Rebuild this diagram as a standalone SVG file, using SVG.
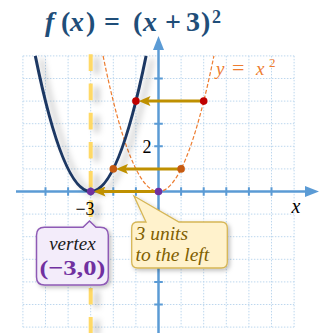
<svg xmlns="http://www.w3.org/2000/svg" width="320" height="333" viewBox="0 0 320 333">
<style>
.grid{fill:none;stroke:#bdd7ee;stroke-width:1;stroke-dasharray:1.5 1.5}
.axis{fill:none;stroke:#5b9bd5;stroke-width:2.5}
.tick{fill:none;stroke:#5b9bd5;stroke-width:2}
.arr{fill:none;stroke:#bf9000;stroke-width:3;marker-end:url(#gh)}
.serif{font-family:"Liberation Serif","DejaVu Serif",serif}
</style>
<defs>
<filter id="sh" filterUnits="userSpaceOnUse" x="0" y="0" width="320" height="333">
<feDropShadow dx="6" dy="3" stdDeviation="3" flood-color="#000" flood-opacity="0.28"/>
</filter>
<filter id="sh2" filterUnits="userSpaceOnUse" x="0" y="0" width="320" height="333">
<feDropShadow dx="2" dy="2" stdDeviation="2" flood-color="#000" flood-opacity="0.25"/>
</filter>
<marker id="ah" markerUnits="userSpaceOnUse" viewBox="0 0 14 11" refX="4" refY="5.5" markerWidth="14" markerHeight="11" orient="auto">
<path d="M0,0 L14,5.5 L0,11 Z" fill="#5b9bd5"/>
</marker>
<marker id="gh" markerUnits="userSpaceOnUse" viewBox="0 0 12 10" refX="4" refY="5" markerWidth="12" markerHeight="10" orient="auto">
<path d="M0,0 L12,5 L0,10 L2.5,5 Z" fill="#bf9000"/>
</marker>
</defs>
<rect width="320" height="333" fill="#fff"/>
<g id="grid">
<path class="grid" d="M22.9,55.9V327.1M45.5,55.9V327.1M68.1,55.9V327.1M90.7,55.9V327.1M113.3,55.9V327.1M135.9,55.9V327.1M158.5,55.9V327.1M181.1,55.9V327.1M203.7,55.9V327.1M226.3,55.9V327.1M248.9,55.9V327.1M271.5,55.9V327.1M294.1,55.9V327.1
M22.9,55.9H294.1M22.9,78.5H294.1M22.9,101.1H294.1M22.9,123.7H294.1M22.9,146.3H294.1M22.9,168.9H294.1M22.9,191.5H294.1M22.9,214.1H294.1M22.9,236.7H294.1M22.9,259.3H294.1M22.9,281.9H294.1M22.9,304.5H294.1M22.9,327.1H294.1"/>
</g>
<g id="axis-of-symmetry">
<line x1="90.7" y1="54.3" x2="90.7" y2="333" stroke="#ffd966" stroke-width="4" stroke-dasharray="16.7 12.5" filter="url(#sh)"/>
</g>
<g id="axes">
<line class="axis" x1="16" y1="191.5" x2="309" y2="191.5" marker-end="url(#ah)"/>
<line class="axis" x1="158.5" y1="333" x2="158.5" y2="46" marker-end="url(#ah)"/>
<path class="tick" d="M45.5,187.2V195.8M68.1,187.2V195.8M90.7,187.2V195.8M113.3,187.2V195.8M135.9,187.2V195.8M181.1,187.2V195.8M203.7,187.2V195.8M226.3,187.2V195.8M248.9,187.2V195.8M271.5,187.2V195.8
M154.2,78.5H162.8M154.2,101.1H162.8M154.2,123.7H162.8M154.2,146.3H162.8M154.2,168.9H162.8M154.2,214.1H162.8M154.2,236.7H162.8M154.2,259.3H162.8M154.2,281.9H162.8M154.2,304.5H162.8"/>
<text class="serif" x="147" y="152.5" font-size="18" text-anchor="middle" fill="#000">2</text>
<text class="serif" x="85" y="215" font-size="18" text-anchor="middle" fill="#000">−3</text>
<text class="serif" x="296" y="213" font-size="20" font-style="italic" text-anchor="middle" fill="#000">x</text>
</g>
<g id="parent-curve">
<path d="M103.1,55.9 Q158.5,327.1 213.9,55.9" fill="none" stroke="#ed7d31" stroke-width="1.2" stroke-dasharray="4 2"/>
<text class="serif" x="216" y="75" font-size="19" font-style="italic" fill="#ed7d31">y<tspan x="232" font-style="normal" font-size="22">=</tspan><tspan x="256">x</tspan><tspan x="269" y="67" font-size="13" font-style="normal">2</tspan></text>
</g>
<g id="shifted-curve">
<path d="M35.3,55.9 Q90.7,327.1 146.1,55.9" fill="none" stroke="#1f3864" stroke-width="3" filter="url(#sh)"/>
</g>
<g id="connectors">
<line class="arr" x1="203.7" y1="101.1" x2="146.5" y2="101.1"/>
<line class="arr" x1="181.1" y1="168.9" x2="124" y2="168.9"/>
<line class="arr" x1="158.5" y1="191.5" x2="101.5" y2="191.5"/>
</g>
<g id="points">
<circle cx="135.9" cy="101.1" r="3.8" fill="#c00000"/>
<circle cx="203.7" cy="101.1" r="3.8" fill="#c00000"/>
<circle cx="113.3" cy="168.9" r="3.8" fill="#c55a11"/>
<circle cx="181.1" cy="168.9" r="3.8" fill="#c55a11"/>
<circle cx="90.7" cy="191.5" r="3.8" fill="#7030a0"/>
<circle cx="158.5" cy="191.5" r="3.8" fill="#7030a0"/>
</g>
<g id="title">
<text class="serif" y="31" font-size="28" font-weight="bold" fill="#1f4e79"><tspan x="45" font-style="italic">f</tspan><tspan x="61">(</tspan><tspan x="70" font-style="italic">x</tspan><tspan x="86">)</tspan><tspan x="104">=</tspan><tspan x="133">(</tspan><tspan x="143" font-style="italic">x</tspan><tspan x="165">+</tspan><tspan x="186">3</tspan><tspan x="201">)</tspan><tspan x="212" y="23" font-size="18">2</tspan></text>
</g>
<g id="vertex-callout">
<path d="M44.5,227.3 H83 L89.5,221 L96,227.3 H100.3 Q108.3,227.3 108.3,235.3 V277 Q108.3,285 100.3,285 H44.5 Q36.5,285 36.5,277 V235.3 Q36.5,227.3 44.5,227.3 Z" fill="#f3ecfa" stroke="#8e5ab5" stroke-width="1.5" filter="url(#sh2)"/>
<text class="serif" x="72.4" y="249.5" font-size="19" font-style="italic" text-anchor="middle" fill="#1a1a1a">vertex</text>
<text class="serif" x="72.4" y="275" font-size="22" font-weight="bold" text-anchor="middle" fill="#7030a0" textLength="66" lengthAdjust="spacingAndGlyphs">(−3,0)</text>
</g>
<g id="shift-callout">
<path d="M137.7,222 H146 L134,196 L179,222 H221.3 Q227.3,222 227.3,228 V262 Q227.3,268 221.3,268 H137.7 Q131.7,268 131.7,262 V228 Q131.7,222 137.7,222 Z" fill="#fff2cc" stroke="#d6b656" stroke-width="1.3" filter="url(#sh2)"/>
<text class="serif" x="135.5" y="239.5" font-size="19.5" font-style="italic" fill="#7f6000">3 units</text>
<text class="serif" x="135.5" y="260.5" font-size="19.5" font-style="italic" fill="#7f6000">to the left</text>
</g>
</svg>
